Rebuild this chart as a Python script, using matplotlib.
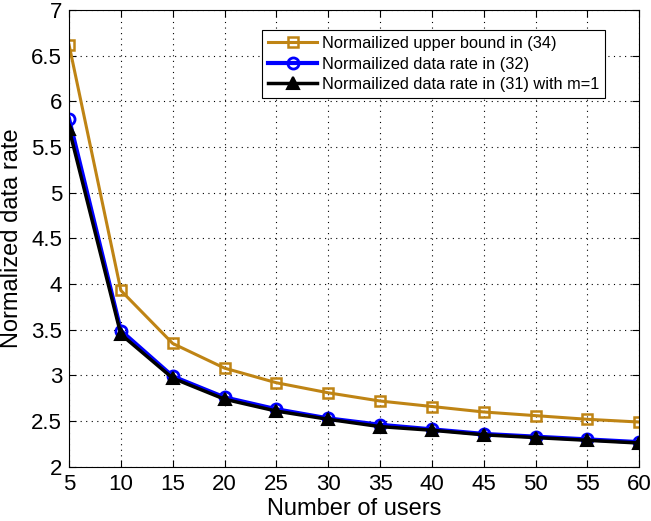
import matplotlib
matplotlib.use("Agg")
import matplotlib.pyplot as plt

users = [5, 10, 15, 20, 25, 30, 35, 40, 45, 50, 55, 60]
upper_bound = [6.62, 3.93, 3.35, 3.08, 2.92, 2.81, 2.72, 2.66, 2.60, 2.56, 2.52, 2.49]
rate_32 = [5.81, 3.49, 2.99, 2.76, 2.63, 2.53, 2.46, 2.41, 2.36, 2.33, 2.30, 2.27]
rate_31 = [5.70, 3.45, 2.97, 2.74, 2.61, 2.52, 2.44, 2.40, 2.35, 2.32, 2.29, 2.26]
xticks = [5, 10, 15, 20, 25, 30, 35, 40, 45, 50, 55, 60]
yticks = [2, 2.5, 3, 3.5, 4, 4.5, 5, 5.5, 6, 6.5, 7]
ytick_labels = ["2", "2.5", "3", "3.5", "4", "4.5", "5", "5.5", "6", "6.5", "7"]

plt.rcParams['font.family'] = ['Liberation Sans', 'DejaVu Sans']
fig = plt.figure(figsize=(6.51, 5.21), dpi=100)
ax = fig.add_axes([0.106, 0.104, 0.876, 0.877])

gold = "#BF8414"
ax.plot(users, upper_bound, color=gold, lw=2.2, marker='s', ms=7, mfc='none', mew=1.8,
        label="Normailized upper bound in (34)")
ax.plot(users, rate_32, color='#0000FF', lw=3, marker='o', ms=8, mfc='none', mew=2,
        label="Normailized data rate in (32)")
ax.plot(users, rate_31, color='black', lw=2.5, marker='^', ms=9, mfc='black', mew=1.5,
        label="Normailized data rate in (31) with m=1")

ax.set_xlim(5, 60)
ax.set_ylim(2, 7)
ax.set_xticks(xticks)
ax.set_yticks(yticks)
ax.set_yticklabels(ytick_labels)
ax.tick_params(direction='in', labelsize=16, top=True, right=True, length=5, pad=5)
ax.grid(True, linestyle=(0, (1, 4)), color='black', lw=0.8)
ax.set_xlabel("Number of users", fontsize=17, labelpad=2)
ax.set_ylabel("Normalized data rate", fontsize=17, labelpad=6)
for s in ax.spines.values():
    s.set_linewidth(0.8)

leg = ax.legend(loc='upper right', bbox_to_anchor=(0.94, 0.955), fontsize=11.8,
                fancybox=False, edgecolor='black', framealpha=1, handlelength=3.0,
                borderpad=0.35, labelspacing=0.33, handletextpad=0.3, borderaxespad=0)
leg.get_frame().set_linewidth(0.8)

fig.savefig("out.png", dpi=100)
